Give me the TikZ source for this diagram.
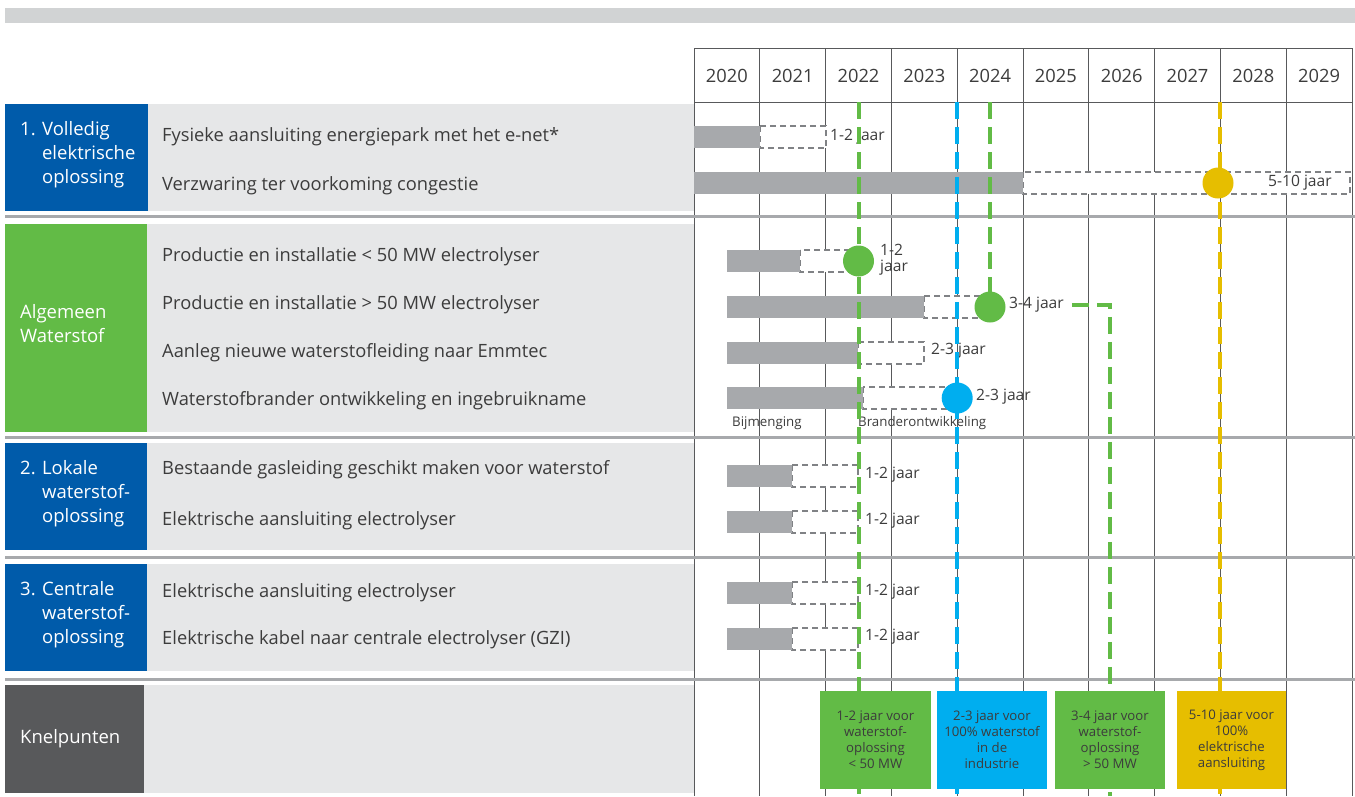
\documentclass[tikz,border=0pt]{standalone}
\usepackage{fontspec}
\setmainfont{Open Sans}
\usetikzlibrary{positioning}
\definecolor{planblue}{HTML}{005BAA}
\definecolor{plangreen}{HTML}{62BB46}
\definecolor{plancyan}{HTML}{00AEEF}
\definecolor{planyellow}{HTML}{E6BE00}
\definecolor{plandark}{HTML}{58595B}
\definecolor{planpanel}{HTML}{E6E7E8}
\definecolor{planbar}{HTML}{A7A9AC}
\definecolor{planband}{HTML}{D1D3D4}
\definecolor{plangray}{HTML}{808285}
\definecolor{plantext}{HTML}{3C3C3C}

\begin{document}
\begin{tikzpicture}[x=1pt,y=-1pt,
every node/.style={inner sep=0pt, text=plantext},
cattext/.style={anchor=west, text=white, align=left, font=\fontsize{18.5}{24}\selectfont},
task/.style={anchor=west, font=\fontsize{18.3}{20}\selectfont},
yr/.style={font=\fontsize{18.3}{20}\selectfont},
dur/.style={anchor=west, font=\fontsize{15.6}{16}\selectfont},
small/.style={anchor=west, font=\fontsize{13.3}{14}\selectfont},
gridline/.style={draw=plandark, line width=1pt},
seprule/.style={draw=planbar, line width=3pt},
done/.style={fill=planbar},
todo/.style={draw=plangray, fill=white, line width=2pt, dash pattern=on 6pt off 4pt},
mile/.style={draw=#1, line width=4pt, dash pattern=on 17pt off 8pt},
dot/.style={circle, fill=#1, minimum size=31pt},
knel/.style={fill=#1, minimum width=110pt, minimum height=98pt, align=center, font=\fontsize{13.2}{16}\selectfont}]
\useasboundingbox (0,0) rectangle (1355,796);
\fill[planband] (5,8) rectangle (1355,23);

\foreach \t/\b/\c/\w in {104/211/planblue/148, 224/432/plangreen/147, 443/550/planblue/147,
  564/671/planblue/147, 685/793/plandark/144}
{
    \fill[\c] (5,\t) rectangle (\w,\b);
    \fill[planpanel] (\w,\t) rectangle (694,\b);
}

\foreach \i in {0,...,10}
    \draw[gridline] (694+65.8*\i,48) -- (694+65.8*\i,796);
\draw[gridline] (694,48) -- (1352,48) (694,102) -- (1352,102);
\foreach \i in {0,...,9}
{
    \pgfmathtruncatemacro\yr{2020+\i}
    \node[yr] (y\yr) at (726.9+65.8*\i,76) {\yr};
}

\foreach \y in {216,437,557,679}
    \draw[seprule] (5,\y) -- (1355,\y);

\node[cattext] (c1) at (20,155) {\begin{tabular}{@{}l@{ }l@{}}1.&Volledig\\&elektrische\\&oplossing\end{tabular}};
\node[cattext] (c2) at (20,324) {Algemeen\\Waterstof};
\node[cattext] (c3) at (20,494) {\begin{tabular}{@{}l@{ }l@{}}2.&Lokale\\&waterstof-\\&oplossing\end{tabular}};
\node[cattext] (c4) at (20,615) {\begin{tabular}{@{}l@{ }l@{}}3.&Centrale\\&waterstof-\\&oplossing\end{tabular}};
\node[cattext] (c5) at (20,739) {Knelpunten};

\foreach \n/\y/\txt in {1/137/Fysieke aansluiting energiepark met het e-net*,
  2/186/Verzwaring ter voorkoming congestie,
  3/257/Productie en installatie < 50 MW electrolyser,
  4/305/Productie en installatie > 50 MW electrolyser,
  5/353/Aanleg nieuwe waterstofleiding naar Emmtec,
  6/401/Waterstofbrander ontwikkeling en ingebruikname,
  7/470/Bestaande gasleiding geschikt maken voor waterstof,
  8/521/Elektrische aansluiting electrolyser,
  9/593/Elektrische aansluiting electrolyser,
  10/640/Elektrische kabel naar centrale electrolyser (GZI)}
    \node[task] (t\n) at (162,\y) {\txt};

\foreach \y/\a/\b/\c in {137/694/760/826, 183/694/1023/1350, 261/727/800/858, 307/727/924/990,
  353/727/858/924, 398/727/863/957, 476/727/792/858, 522/727/792/858, 593/727/792/858, 639/727/792/858}
{
    \draw[todo] (\b,\y-11) rectangle (\c,\y+11);
    \fill[done] (\a,\y-11) rectangle (\b,\y+11);
}

\node[dur,fill=white,inner ysep=6pt] (d1) at (830,137) {1-2 jaar};
\node[dur] (d2) at (1268,183) {5-10 jaar};
\node[dur,align=left] (d3) at (880,260) {1-2\\jaar};
\node[dur] (d4) at (1009,305) {3-4 jaar};
\node[dur] (d5) at (931,351) {2-3 jaar};
\node[dur] (d6) at (976,397) {2-3 jaar};
\foreach \n/\y in {7/475, 8/521, 9/592, 10/637}
    \node[dur] (d\n) at (865,\y) {1-2 jaar};
\node[small] (b1) at (732,423) {Bijmenging};
\node[small] (b2) at (858,423) {Branderontwikkeling};

% milestones
\coordinate (g1) at (858.5,102);  \coordinate (g1e) at (858.5,796);
\coordinate (bl) at (957.2,102);  \coordinate (ble) at (957.2,796);
\coordinate (g2) at (990,102);
\coordinate (g3e) at (1110,796);
\coordinate (ye) at (1220.4,102); \coordinate (yee) at (1220.4,796);
\draw[mile=plangreen] (g1) -- (g1e);
\draw[mile=plancyan] (bl) -- (ble);
\draw[mile=plangreen] (g2) -- (990,307);
\draw[mile=plangreen] ([xshift=8pt]d4.east) -| (g3e);
\draw[mile=planyellow] (ye) -- (yee);

\node[dot=plangreen] (m1) at (858.5,261) {};
\node[dot=plangreen] (m2) at (990,307) {};
\node[dot=plancyan] (m3) at (957.2,398) {};
\node[dot=planyellow] (m4) at (1218,183) {};

\node[knel=plangreen,minimum width=111pt] (k1) at (875.5,740) {1-2 jaar voor\\waterstof-\\oplossing\\< 50 MW};
\node[knel=plancyan] (k2) at (992,740) {2-3 jaar voor\\100\% waterstof\\in de\\industrie};
\node[knel=plangreen] (k3) at (1110,740) {3-4 jaar voor\\waterstof-\\oplossing\\> 50 MW};
\node[knel=planyellow,minimum width=109pt] (k4) at (1231.5,740) {5-10 jaar voor\\100\%\\elektrische\\aansluiting};
\end{tikzpicture}
\end{document}
